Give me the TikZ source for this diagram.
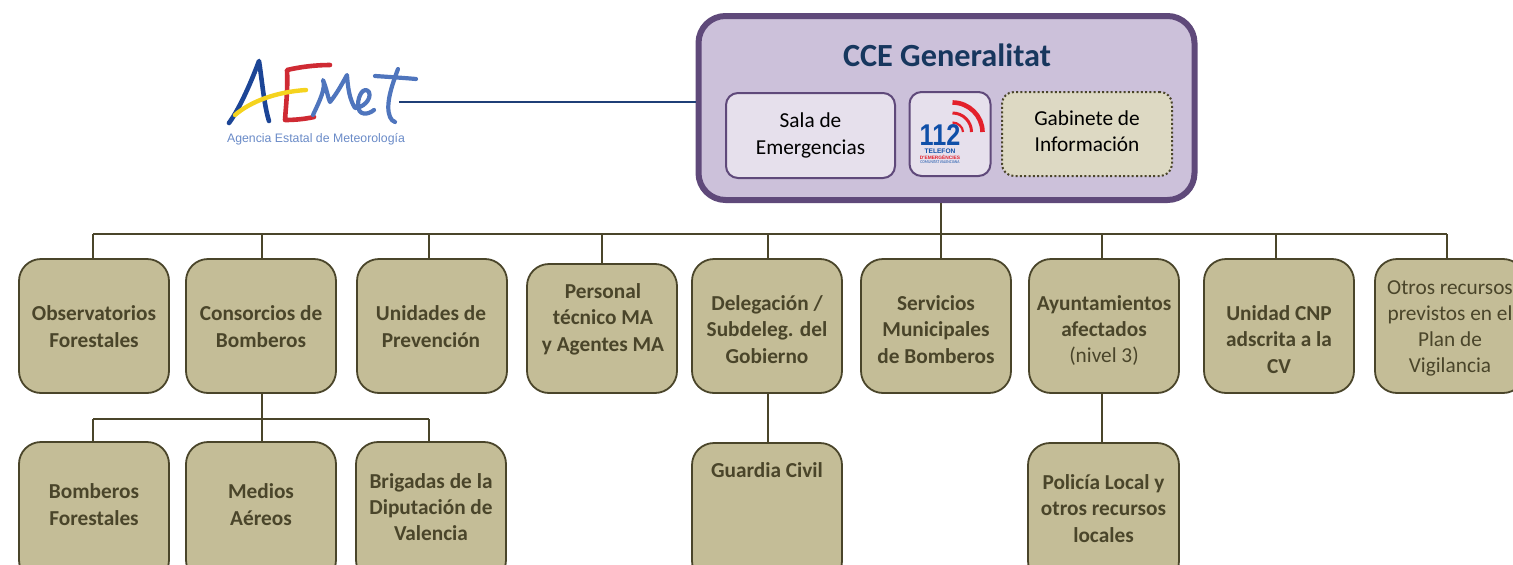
\documentclass[tikz,border=0pt]{standalone}
\usepackage{fontspec}
\setmainfont{Carlito}
\newfontfamily\logofont{Liberation Sans}
\definecolor{olive}{HTML}{4A452A}
\definecolor{tan}{HTML}{C4BD97}
\definecolor{lilac}{HTML}{CCC1DA}
\definecolor{pale}{HTML}{E6E0EC}
\definecolor{plum}{HTML}{5F497A}
\definecolor{sand}{HTML}{DDD9C3}
\definecolor{navy}{HTML}{17375E}
\definecolor{wire}{HTML}{1F3F77}
\definecolor{aeblue}{HTML}{1C4596}
\definecolor{aelight}{HTML}{4F75BD}
\definecolor{aered}{HTML}{CF2A33}
\definecolor{aeyellow}{HTML}{F5D31E}
\definecolor{blue112}{HTML}{0F4FA8}
\definecolor{red112}{HTML}{E3202B}
\tikzset{
  x=1pt,y=-1pt,
  orgbox/.style={draw=olive,fill=tan,line width=1.8pt,rounded corners=22pt,minimum width=150pt,
    minimum height=134pt,inner sep=0pt},
  tallbox/.style={orgbox,minimum height=140pt},
  tiptext/.style={align=center,text=olive,font=\fontsize{21.3}{26.4}\selectfont\bfseries,inner sep=0pt},
  plain/.style={font=\fontsize{21.3}{26}\selectfont\mdseries},
  wireline/.style={draw=olive,line width=1.6pt},
  innerbox/.style={draw=plum,line width=2pt,rounded corners=12pt,fill=pale,inner sep=0pt,align=center,
    text=black,font=\fontsize{21.3}{26.4}\selectfont},
  stroke/.style={line cap=round,line join=round},
}
\begin{document}
\begin{tikzpicture}
\useasboundingbox (0,0) rectangle (1513,565);
\clip (0,0) rectangle (1513,565);
% coordinates of the tree
\coordinate (trunk) at (941,234);
\foreach \n/\x in {1/93,2/262,3/429,4/602,5/768,6/941,7/1102,8/1276,9/1447}{\coordinate (d\n) at (\x,234);}
\coordinate (s1) at (93,419); \coordinate (s2) at (262,419); \coordinate (s3) at (429,419);
\coordinate (logoEnd) at (399,102);
% main box
\node[draw=plum,fill=lilac,line width=6pt,rounded corners=27pt,minimum width=496pt,minimum height=184pt,inner sep=0pt] (cce) at (946.5,108) {};
\node[inner sep=0pt,text=navy,font=\fontsize{32.3}{36}\selectfont\bfseries] (title) at (947,55) {CCE Generalitat};
\node[innerbox,minimum width=169pt,minimum height=85pt] (sala) at (810.5,135.5) {Sala de\\Emergencias};
\node[innerbox,minimum width=81pt,minimum height=84pt] (tel) at (950,134) {};
\node[innerbox,minimum width=170pt,minimum height=84pt,fill=sand,draw=olive,dash pattern=on 2pt off 2.3pt] (gab) at (1087,134) {};
\node[innerbox,draw=none,fill=none,rounded corners=0pt] (gabt) at (1087,131) {Gabinete de\\Información};
% 112 logo
\draw[red112,line width=4.6pt] (952.5,102.5) .. controls (969,102.5) and (982.5,116) .. (982.5,132);
\draw[red112,line width=3pt] (952.5,113) .. controls (963,113) and (971.5,121.5) .. (971.5,132);
\draw[red112,line width=2.2pt] (952.5,122.5) .. controls (958,122.5) and (963,127) .. (963,132);
\node[inner sep=0pt,text=blue112,font=\fontsize{30}{30}\selectfont\logofont\bfseries,xscale=.84] (n112) at (940,135.5) {112};
\node[inner sep=0pt,text=blue112,font=\fontsize{6.6}{7}\selectfont\logofont\bfseries] (t1) at (940,151.5) {TELEFON};
\node[inner sep=0pt,text=red112,font=\fontsize{4.8}{5}\selectfont\logofont\bfseries] (t2) at (940,157.6) {D'EMERGÈNCIES};
\node[inner sep=0pt,text=blue112,font=\fontsize{4.4}{5}\selectfont,xscale=.85] (t3) at (940,162.2) {COMUNITAT VALENCIANA};
% first row
\node[orgbox] (b1) at (94,326) {};
\node[tiptext] (b1t) at (94,326.5) {Observatorios\\Forestales};
\node[orgbox] (b2) at (261,326) {};
\node[tiptext] (b2t) at (261,326.5) {Consorcios de\\Bomberos};
\node[orgbox] (b3) at (432,326) {};
\node[tiptext] (b3t) at (431,326.5) {Unidades de\\Prevención};
\node[orgbox,minimum height=129pt] (b4) at (602,328.5) {};
\node[tiptext] (b4t) at (603,319) {Personal\\técnico MA\\y Agentes MA};
\node[orgbox] (b5) at (767,326) {};
\node[tiptext] (b5t) at (767,329.5) {Delegación /\\Subdeleg. del\\Gobierno};
\node[orgbox] (b6) at (936,326) {};
\node[tiptext] (b6t) at (936,329.5) {Servicios\\Municipales\\de Bomberos};
\node[orgbox] (b7) at (1104,326) {};
\node[tiptext] (b7t) at (1104,330.5) {Ayuntamientos\\afectados\\{\mdseries (nivel 3)}};
\node[orgbox] (b8) at (1279,326) {};
\node[tiptext] (b8t) at (1279,339.5) {Unidad CNP\\adscrita a la\\CV};
\node[orgbox] (b9) at (1450,326) {};
\node[tiptext,plain] (b9t) at (1450,328) {Otros recursos\\previstos en el\\Plan de\\Vigilancia};
% second row
\node[tallbox] (c1) at (94,512) {};
\node[tiptext] (c1t) at (94,504.5) {Bomberos\\Forestales};
\node[tallbox] (c2) at (261,512) {};
\node[tiptext] (c2t) at (261,504.5) {Medios\\Aéreos};
\node[tallbox] (c3) at (431,512) {};
\node[tiptext] (c3t) at (431,507) {Brigadas de la\\Diputación de\\Valencia};
\node[tallbox] (g) at (767,513) {};
\node[tiptext] (gt) at (767,470) {Guardia Civil};
\node[tallbox,minimum width=151pt] (p) at (1103.5,513) {};
\node[tiptext] (pt) at (1103.5,508.5) {Policía Local y\\otros recursos\\locales};
% connectors
\draw[wire,line width=1.8pt] (logoEnd) -- (logoEnd -| cce.west);
\draw[wireline] (trunk) -- (trunk |- cce.south);
\draw[wireline] (d1) -- (d9);
\foreach \n in {1,...,9}{\draw[wireline] (d\n) -- (d\n |- b\n.north);}
\draw[wireline] (s2) -- (s2 |- b2.south);
\draw[wireline] (s1) -- (s3);
\draw[wireline] (s1) -- (s1 |- c1.north);
\draw[wireline] (s2) -- (s2 |- c2.north);
\draw[wireline] (s3) -- (s3 |- c3.north);
\draw[wireline] (d5 |- b5.south) -- (d5 |- g.north);
\draw[wireline] (d7 |- b7.south) -- (d7 |- p.north);
% AEMet logo
\draw[aeblue,stroke,line width=4.6pt] (229,123) .. controls (240,108) and (252,80) .. (259,61) .. controls (262,80) and (264,105) .. (269,121);
\draw[aered,stroke,line width=4.6pt] (330,65) .. controls (315,65) and (300,67) .. (287,70) .. controls (288,88) and (286,105) .. (285,120) .. controls (295,120) and (305,119) .. (314,117);
\draw[aeyellow,stroke,line width=4.4pt] (235,115) .. controls (250,102) and (275,92) .. (306,90);
\draw[aelight,stroke,line width=4.2pt] (313,115) .. controls (320,100) and (326,88) .. (323,80) .. controls (327,90) and (328,98) .. (330,102) .. controls (338,92) and (343,82) .. (347,75) .. controls (348,90) and (350,100) .. (355,108) .. controls (362,108) and (372,100) .. (369,92) .. controls (364,86) and (358,95) .. (358,105) .. controls (358,116) and (368,115) .. (374,110);
\draw[aelight,stroke,line width=4.2pt] (398,69) .. controls (392,85) and (385,105) .. (390,117) .. controls (391,120) and (393,121) .. (395,122);
\draw[aelight,stroke,line width=4.2pt] (375,76) .. controls (390,77) and (405,78) .. (416,79);
\node[inner sep=0pt,text=aelight!85!white,font=\fontsize{12.3}{14}\selectfont\logofont] (agency) at (316,139) {Agencia Estatal de Meteorología};
\end{tikzpicture}
\end{document}
